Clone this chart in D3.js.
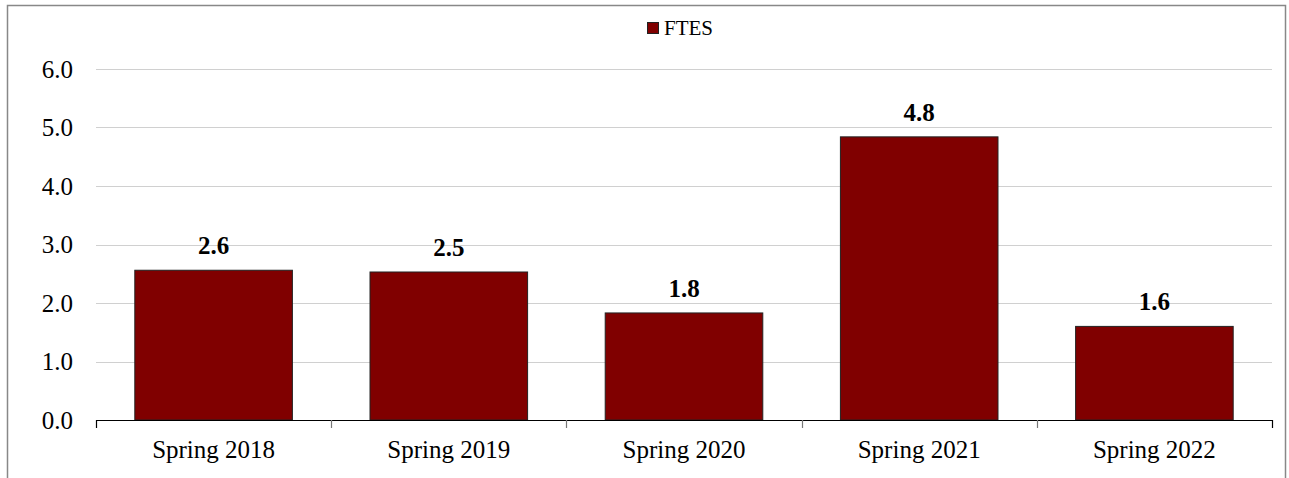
<!DOCTYPE html>
<html lang="en">
<head>
    <title>FTES by Term</title>
    <script src="https://d3js.org/d3.v7.min.js"></script>
    <style>
        body { margin: 0; background: #fff; }
        text { font-family: "Liberation Serif", "Times New Roman", serif; }
    </style>
</head>
<body>
    <svg width=1289 height=478></svg>
    <script>
    const terms = ["Spring 2018", "Spring 2019", "Spring 2020", "Spring 2021", "Spring 2022"];
    const ftes = [2.56, 2.53, 1.83, 4.84, 1.60];
    const yTicks = [0, 1, 2, 3, 4, 5, 6];
    const seriesName = "FTES";

    const svg = d3.select("svg");
    const plotLeft = 96, plotRight = 1272, plotTop = 69, plotBottom = 420;

    // outer frame (bottom edge falls outside the picture)
    svg.append("rect")
        .attr("x", 7.5).attr("y", 5.5)
        .attr("width", 1278).attr("height", 480)
        .attr("fill", "none")
        .attr("stroke", "#888")
        .attr("stroke-width", 1.5);

    const x = d3.scaleBand().domain(terms).range([plotLeft, plotRight]).paddingInner(0.33).paddingOuter(0.165);
    const y = d3.scaleLinear().domain([0, 6]).range([plotBottom, plotTop]);

    // gridlines
    svg.append("g")
        .selectAll("line")
        .data(yTicks.filter(d => d > 0))
        .join("line")
        .attr("x1", plotLeft).attr("x2", plotRight)
        .attr("y1", d => Math.round(y(d)) + 0.5)
        .attr("y2", d => Math.round(y(d)) + 0.5)
        .attr("stroke", "#d0d0d0")
        .attr("stroke-width", 1);

    // y labels
    svg.append("g")
        .selectAll("text")
        .data(yTicks)
        .join("text")
        .attr("x", 73)
        .attr("y", d => y(d))
        .attr("dy", "0.35em")
        .attr("text-anchor", "end")
        .attr("font-size", 25)
        .attr("fill", "#000")
        .text(d => d.toFixed(1));

    // bars
    svg.append("g")
        .selectAll("rect")
        .data(ftes)
        .join("rect")
        .attr("x", (d, i) => x(terms[i]))
        .attr("y", d => y(d))
        .attr("width", x.bandwidth())
        .attr("height", d => plotBottom - y(d))
        .attr("fill", "#800000")
        .attr("stroke", "#222")
        .attr("stroke-width", 1);

    // value labels
    svg.append("g")
        .selectAll("text")
        .data(ftes)
        .join("text")
        .attr("x", (d, i) => x(terms[i]) + x.bandwidth() / 2)
        .attr("y", d => y(d) - 16)
        .attr("text-anchor", "middle")
        .attr("font-size", 25)
        .attr("font-weight", "bold")
        .text(d => d.toFixed(1));

    // x axis
    const step = (plotRight - plotLeft) / terms.length;
    const ax = svg.append("g");
    ax.append("line")
        .attr("x1", plotLeft).attr("x2", plotRight)
        .attr("y1", plotBottom + 0.5).attr("y2", plotBottom + 0.5)
        .attr("stroke", "#000").attr("stroke-width", 1.2);
    ax.selectAll("line.tick")
        .data(d3.range(terms.length + 1))
        .join("line")
        .attr("class", "tick")
        .attr("x1", d => Math.round(plotLeft + d * step) + 0.5)
        .attr("x2", d => Math.round(plotLeft + d * step) + 0.5)
        .attr("y1", plotBottom).attr("y2", plotBottom + 8)
        .attr("stroke", d => (d === 0 || d === terms.length) ? "#000" : "#777")
        .attr("stroke-width", 1.2);
    ax.selectAll("text")
        .data(terms)
        .join("text")
        .attr("x", d => x(d) + x.bandwidth() / 2)
        .attr("y", 458)
        .attr("text-anchor", "middle")
        .attr("font-size", 25)
        .text(d => d);

    // legend
    const lg = svg.append("g");
    lg.append("rect")
        .attr("x", 647.5).attr("y", 22.5)
        .attr("width", 11).attr("height", 11)
        .attr("fill", "#800000")
        .attr("stroke", "#222").attr("stroke-width", 1);
    lg.append("text")
        .attr("x", 664).attr("y", 35)
        .attr("font-size", 21)
        .text(seriesName);
    </script>
</body>
</html>
